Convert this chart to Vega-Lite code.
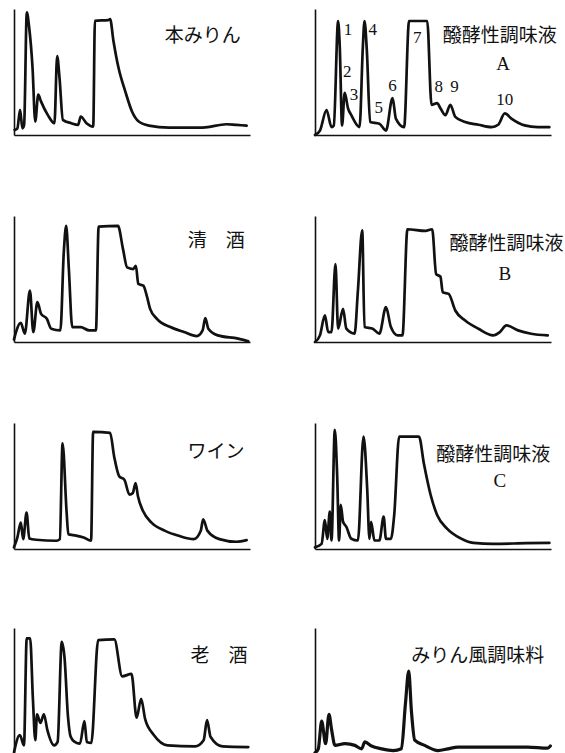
{
"$schema":"https://vega.github.io/schema/vega-lite/v6.json",
"padding":{"left":12,"top":9,"right":0,"bottom":0},
"background":"white",
"config":{"view":{"stroke":null},"axis":{"labels":false,"ticks":false,"grid":false,"domainColor":"#111","domainWidth":1.6},
"line":{"color":"#111","strokeWidth":2.7,"strokeJoin":"round","strokeCap":"round","interpolate":"monotone"},
"text":{"color":"#111","font":"Noto Sans CJK JP","fontSize":19,"align":"center","baseline":"middle"}},
"concat":[
{"width":236,"height":126,"layer":[
{"data":{"values":[{"x":2,"y":15},{"x":10,"y":20},{"x":18,"y":75},{"x":25,"y":20},{"x":30,"y":30},{"x":38,"y":365},{"x":45,"y":320},{"x":55,"y":200},{"x":63,"y":40},{"x":72,"y":120},{"x":80,"y":100},{"x":100,"y":60},{"x":120,"y":35},{"x":128,"y":235},{"x":135,"y":170},{"x":145,"y":45},{"x":170,"y":35},{"x":190,"y":30},{"x":198,"y":55},{"x":215,"y":35},{"x":235,"y":25},{"x":240,"y":340},{"x":280,"y":342},{"x":285,"y":345},{"x":295,"y":280},{"x":310,"y":200},{"x":330,"y":130},{"x":350,"y":70},{"x":370,"y":40},{"x":400,"y":28},{"x":460,"y":22},{"x":560,"y":22},{"x":630,"y":32},{"x":660,"y":30},{"x":690,"y":28}]},
"mark":"line","encoding":{"x":{"field":"x","type":"quantitative","title":null,"scale":{"domain":[0,700],"nice":false}},"y":{"field":"y","type":"quantitative","title":null,"scale":{"domain":[0,375],"nice":false}}}},
{"data":{"values":[{"x":560,"y":295,"label":"本みりん"}]},"mark":"text","encoding":{"x":{"field":"x","type":"quantitative","title":null},"y":{"field":"y","type":"quantitative","title":null},"text":{"field":"label"}}}
]},
{"width":236,"height":126,"layer":[
{"data":{"values":[{"x":0,"y":0},{"x":15,"y":13},{"x":35,"y":73},{"x":50,"y":23},{"x":57,"y":28},{"x":70,"y":333},{"x":75,"y":258},{"x":82,"y":28},{"x":90,"y":123},{"x":100,"y":78},{"x":110,"y":58},{"x":135,"y":23},{"x":145,"y":258},{"x":150,"y":333},{"x":157,"y":248},{"x":167,"y":38},{"x":195,"y":33},{"x":215,"y":13},{"x":235,"y":108},{"x":245,"y":48},{"x":270,"y":23},{"x":285,"y":333},{"x":340,"y":333},{"x":353,"y":88},{"x":370,"y":93},{"x":380,"y":78},{"x":395,"y":58},{"x":410,"y":88},{"x":425,"y":53},{"x":455,"y":38},{"x":495,"y":30},{"x":535,"y":23},{"x":555,"y":30},{"x":575,"y":63},{"x":595,"y":48},{"x":635,"y":28},{"x":675,"y":23},{"x":710,"y":23}]},
"mark":"line","encoding":{"x":{"field":"x","type":"quantitative","title":null,"scale":{"domain":[0,715],"nice":false}},"y":{"field":"y","type":"quantitative","title":null,"scale":{"domain":[0,368],"nice":false}}}},
{"data":{"values":[{"x":100,"y":308,"label":"1"},{"x":98,"y":183,"label":"2"},{"x":118,"y":118,"label":"3"},{"x":175,"y":308,"label":"4"},{"x":193,"y":78,"label":"5"},{"x":235,"y":143,"label":"6"},{"x":310,"y":283,"label":"7"},{"x":375,"y":140,"label":"8"},{"x":423,"y":140,"label":"9"},{"x":575,"y":103,"label":"10"}]},"mark":{"type":"text","font":"Liberation Serif","fontSize":17},"encoding":{"x":{"field":"x","type":"quantitative","title":null},"y":{"field":"y","type":"quantitative","title":null},"text":{"field":"label"}}},
{"data":{"values":[{"x":560,"y":288,"label":"醱酵性調味液"}]},"mark":"text","encoding":{"x":{"field":"x","type":"quantitative","title":null},"y":{"field":"y","type":"quantitative","title":null},"text":{"field":"label"}}},
{"data":{"values":[{"x":570,"y":208,"label":"A"}]},"mark":{"type":"text","font":"Liberation Serif","fontSize":19},"encoding":{"x":{"field":"x","type":"quantitative","title":null},"y":{"field":"y","type":"quantitative","title":null},"text":{"field":"label"}}}
]},
{"width":236,"height":126,"layer":[
{"data":{"values":[{"x":0,"y":8},{"x":20,"y":58},{"x":32,"y":25},{"x":47,"y":155},{"x":57,"y":30},{"x":69,"y":120},{"x":80,"y":85},{"x":97,"y":70},{"x":110,"y":40},{"x":137,"y":35},{"x":147,"y":270},{"x":154,"y":350},{"x":162,"y":220},{"x":172,"y":45},{"x":197,"y":45},{"x":222,"y":35},{"x":242,"y":35},{"x":250,"y":348},{"x":307,"y":350},{"x":322,"y":280},{"x":334,"y":225},{"x":352,"y":220},{"x":360,"y":230},{"x":367,"y":175},{"x":382,"y":170},{"x":392,"y":140},{"x":402,"y":100},{"x":422,"y":70},{"x":462,"y":45},{"x":502,"y":30},{"x":540,"y":18},{"x":557,"y":35},{"x":565,"y":72},{"x":574,"y":40},{"x":602,"y":20},{"x":662,"y":10},{"x":692,"y":2}]},
"mark":"line","encoding":{"x":{"field":"x","type":"quantitative","title":null,"scale":{"domain":[0,697],"nice":false}},"y":{"field":"y","type":"quantitative","title":null,"scale":{"domain":[0,380],"nice":false}}}},
{"data":{"values":[{"x":597,"y":305,"label":"清　酒"}]},"mark":"text","encoding":{"x":{"field":"x","type":"quantitative","title":null},"y":{"field":"y","type":"quantitative","title":null},"text":{"field":"label"}}}
]},
{"width":236,"height":126,"layer":[
{"data":{"values":[{"x":0,"y":0},{"x":15,"y":20},{"x":30,"y":80},{"x":40,"y":30},{"x":50,"y":30},{"x":62,"y":235},{"x":70,"y":40},{"x":85,"y":100},{"x":95,"y":40},{"x":120,"y":25},{"x":130,"y":155},{"x":143,"y":337},{"x":150,"y":45},{"x":175,"y":40},{"x":195,"y":25},{"x":215,"y":105},{"x":230,"y":45},{"x":250,"y":20},{"x":265,"y":20},{"x":280,"y":340},{"x":335,"y":335},{"x":355,"y":340},{"x":367,"y":205},{"x":380,"y":197},{"x":387,"y":150},{"x":405,"y":145},{"x":425,"y":95},{"x":455,"y":65},{"x":495,"y":40},{"x":540,"y":20},{"x":560,"y":30},{"x":580,"y":50},{"x":615,"y":35},{"x":655,"y":25},{"x":705,"y":20}]},
"mark":"line","encoding":{"x":{"field":"x","type":"quantitative","title":null,"scale":{"domain":[0,715],"nice":false}},"y":{"field":"y","type":"quantitative","title":null,"scale":{"domain":[0,380],"nice":false}}}},
{"data":{"values":[{"x":580,"y":295,"label":"醱酵性調味液"}]},"mark":"text","encoding":{"x":{"field":"x","type":"quantitative","title":null},"y":{"field":"y","type":"quantitative","title":null},"text":{"field":"label"}}},
{"data":{"values":[{"x":575,"y":205,"label":"B"}]},"mark":{"type":"text","font":"Liberation Serif","fontSize":19},"encoding":{"x":{"field":"x","type":"quantitative","title":null},"y":{"field":"y","type":"quantitative","title":null},"text":{"field":"label"}}}
]},
{"width":236,"height":126,"layer":[
{"data":{"values":[{"x":0,"y":5},{"x":10,"y":35},{"x":20,"y":80},{"x":27,"y":30},{"x":37,"y":110},{"x":45,"y":32},{"x":65,"y":28},{"x":125,"y":25},{"x":135,"y":30},{"x":143,"y":320},{"x":155,"y":110},{"x":160,"y":45},{"x":175,"y":42},{"x":205,"y":35},{"x":227,"y":25},{"x":233,"y":355},{"x":283,"y":352},{"x":295,"y":280},{"x":310,"y":220},{"x":325,"y":210},{"x":340,"y":165},{"x":350,"y":170},{"x":358,"y":200},{"x":365,"y":160},{"x":380,"y":115},{"x":405,"y":80},{"x":445,"y":55},{"x":485,"y":40},{"x":530,"y":30},{"x":550,"y":55},{"x":557,"y":90},{"x":570,"y":55},{"x":605,"y":30},{"x":655,"y":22},{"x":685,"y":27}]},
"mark":"line","encoding":{"x":{"field":"x","type":"quantitative","title":null,"scale":{"domain":[0,695],"nice":false}},"y":{"field":"y","type":"quantitative","title":null,"scale":{"domain":[0,382],"nice":false}}}},
{"data":{"values":[{"x":595,"y":295,"label":"ワイン"}]},"mark":"text","encoding":{"x":{"field":"x","type":"quantitative","title":null},"y":{"field":"y","type":"quantitative","title":null},"text":{"field":"label"}}}
]},
{"width":236,"height":126,"layer":[
{"data":{"values":[{"x":0,"y":5},{"x":20,"y":15},{"x":30,"y":85},{"x":37,"y":30},{"x":45,"y":110},{"x":50,"y":25},{"x":60,"y":350},{"x":67,"y":220},{"x":73,"y":25},{"x":78,"y":130},{"x":85,"y":80},{"x":95,"y":65},{"x":110,"y":30},{"x":130,"y":25},{"x":147,"y":330},{"x":158,"y":180},{"x":165,"y":30},{"x":170,"y":80},{"x":180,"y":25},{"x":195,"y":25},{"x":208,"y":95},{"x":215,"y":30},{"x":230,"y":30},{"x":240,"y":100},{"x":255,"y":330},{"x":315,"y":330},{"x":330,"y":250},{"x":350,"y":160},{"x":370,"y":100},{"x":400,"y":60},{"x":440,"y":32},{"x":480,"y":18},{"x":540,"y":15},{"x":640,"y":17},{"x":710,"y":18}]},
"mark":"line","encoding":{"x":{"field":"x","type":"quantitative","title":null,"scale":{"domain":[0,715],"nice":false}},"y":{"field":"y","type":"quantitative","title":null,"scale":{"domain":[0,370],"nice":false}}}},
{"data":{"values":[{"x":540,"y":275,"label":"醱酵性調味液"}]},"mark":"text","encoding":{"x":{"field":"x","type":"quantitative","title":null},"y":{"field":"y","type":"quantitative","title":null},"text":{"field":"label"}}},
{"data":{"values":[{"x":560,"y":200,"label":"C"}]},"mark":{"type":"text","font":"Liberation Serif","fontSize":19},"encoding":{"x":{"field":"x","type":"quantitative","title":null},"y":{"field":"y","type":"quantitative","title":null},"text":{"field":"label"}}}
]},
{"width":236,"height":126,"layer":[
{"data":{"values":[{"x":0,"y":5},{"x":17,"y":55},{"x":29,"y":25},{"x":37,"y":335},{"x":47,"y":335},{"x":55,"y":160},{"x":62,"y":40},{"x":67,"y":115},{"x":77,"y":90},{"x":87,"y":115},{"x":97,"y":70},{"x":117,"y":25},{"x":127,"y":35},{"x":139,"y":325},{"x":147,"y":280},{"x":157,"y":110},{"x":165,"y":50},{"x":177,"y":35},{"x":192,"y":30},{"x":205,"y":95},{"x":212,"y":35},{"x":225,"y":32},{"x":245,"y":330},{"x":292,"y":332},{"x":315,"y":225},{"x":342,"y":232},{"x":357,"y":105},{"x":370,"y":160},{"x":382,"y":100},{"x":407,"y":55},{"x":447,"y":25},{"x":527,"y":22},{"x":552,"y":40},{"x":562,"y":98},{"x":572,"y":50},{"x":607,"y":22},{"x":682,"y":20}]},
"mark":"line","encoding":{"x":{"field":"x","type":"quantitative","title":null,"scale":{"domain":[0,687],"nice":false}},"y":{"field":"y","type":"quantitative","title":null,"scale":{"domain":[0,365],"nice":false}}}},
{"data":{"values":[{"x":597,"y":285,"label":"老　酒"}]},"mark":"text","encoding":{"x":{"field":"x","type":"quantitative","title":null},"y":{"field":"y","type":"quantitative","title":null},"text":{"field":"label"}}}
]},
{"width":236,"height":126,"layer":[
{"data":{"values":[{"x":0,"y":3},{"x":10,"y":15},{"x":20,"y":95},{"x":32,"y":30},{"x":42,"y":115},{"x":50,"y":70},{"x":60,"y":25},{"x":90,"y":30},{"x":120,"y":25},{"x":140,"y":15},{"x":150,"y":35},{"x":170,"y":23},{"x":200,"y":15},{"x":235,"y":10},{"x":260,"y":15},{"x":272,"y":145},{"x":282,"y":240},{"x":290,"y":125},{"x":300,"y":40},{"x":330,"y":25},{"x":370,"y":10},{"x":400,"y":15},{"x":430,"y":20},{"x":490,"y":20},{"x":640,"y":20},{"x":700,"y":17},{"x":708,"y":23}]},
"mark":{"type":"line","strokeWidth":3.2},"encoding":{"x":{"field":"x","type":"quantitative","title":null,"scale":{"domain":[0,710],"nice":false}},"y":{"field":"y","type":"quantitative","title":null,"scale":{"domain":[0,365],"nice":false}}}},
{"data":{"values":[{"x":490,"y":285,"label":"みりん風調味料"}]},"mark":"text","encoding":{"x":{"field":"x","type":"quantitative","title":null},"y":{"field":"y","type":"quantitative","title":null},"text":{"field":"label"}}}
]}
],
"columns":2,
"spacing":{"row":79,"column":63}
}
